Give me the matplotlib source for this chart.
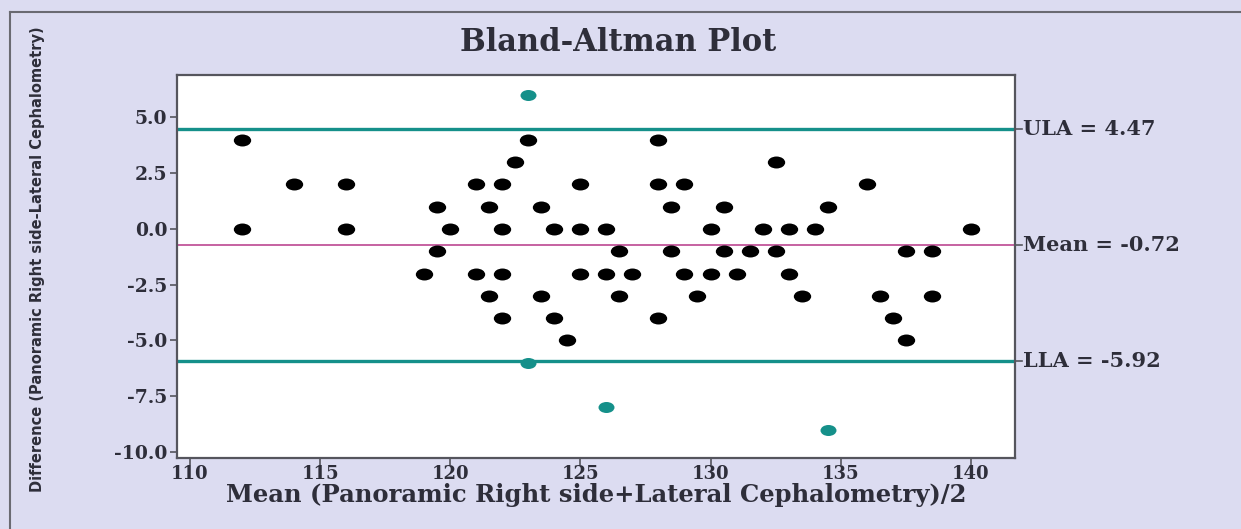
import matplotlib.pyplot as plt
from matplotlib.path import Path
from matplotlib.transforms import Affine2D
from matplotlib.lines import Line2D

# agreement points (mean, difference)
mean_vals = [112, 123, 128,
             122.5, 132.5,
             114, 116, 121, 122, 125, 128, 129, 136,
             119.5, 121.5, 123.5, 128.5, 130.5, 134.5,
             112, 116, 120, 122, 124, 125, 126, 130, 132, 133, 134, 140,
             119.5, 126.5, 128.5, 130.5, 131.5, 132.5, 137.5, 138.5,
             119, 121, 122, 125, 126, 127, 129, 130, 131, 133,
             121.5, 123.5, 126.5, 129.5, 133.5, 136.5, 138.5,
             122, 124, 128, 137,
             124.5, 137.5]
diff_vals = [4, 4, 4,
             3, 3,
             2, 2, 2, 2, 2, 2, 2, 2,
             1, 1, 1, 1, 1, 1,
             0, 0, 0, 0, 0, 0, 0, 0, 0, 0, 0, 0,
             -1, -1, -1, -1, -1, -1, -1, -1,
             -2, -2, -2, -2, -2, -2, -2, -2, -2, -2,
             -3, -3, -3, -3, -3, -3, -3,
             -4, -4, -4, -4,
             -5, -5]

# points outside / on the limits
out_mean = [123, 123, 126, 134.5]
out_diff = [6, -6, -8, -9]

ula = 4.47
mean_diff = -0.72
lla = -5.92
ref_labels = ["ULA = 4.47", "Mean = -0.72", "LLA = -5.92"]

x_ticks = [110, 115, 120, 125, 130, 135, 140]
y_ticks = [5.0, 2.5, 0.0, -2.5, -5.0, -7.5, -10.0]

bg = "#dcdcf1"
teal = "#15908a"
text_col = "#2e2e3a"
serif = ["DejaVu Serif"]

ellipse = Path.unit_circle().transformed(Affine2D().scale(1.45, 1.0))

fig = plt.figure(figsize=(12.41, 5.29), dpi=100, facecolor=bg)
ax = fig.add_axes([0.1426, 0.1342, 0.6753, 0.7238])
ax.set_facecolor("white")

ax.axhline(ula, color=teal, lw=2.4, zorder=2)
ax.axhline(lla, color=teal, lw=2.4, zorder=2)
ax.axhline(mean_diff, color="#c2559a", lw=1.3, zorder=2)

ax.plot(mean_vals, diff_vals, ls="none", marker=ellipse, ms=12.5, mew=0,
        color="black", zorder=3)
ax.plot(out_mean, out_diff, ls="none", marker=ellipse, ms=11.5, mew=0,
        color=teal, zorder=3)

ax.set_xlim(109.5, 141.7)
ax.set_ylim(-10.27, 6.9)
ax.set_xticks(x_ticks)
ax.set_yticks(y_ticks)
ax.set_yticklabels([f"{v:.1f}" for v in y_ticks])

for s in ax.spines.values():
    s.set_color("#55555d")
    s.set_linewidth(1.6)
ax.tick_params(direction="out", length=5, width=1.2, color="#55555d",
               labelcolor=text_col, labelsize=13.5, pad=2)
ax.tick_params(axis="x", labelsize=13, pad=0)
for lab in ax.get_xticklabels() + ax.get_yticklabels():
    lab.set_family(serif)
    lab.set_fontweight("bold")

# right-side reference labels with small ticks
tr = ax.get_yaxis_transform()
for val, lab in zip([ula, mean_diff, lla], ref_labels):
    ax.plot([1.0, 1.008], [val, val], transform=tr, color="#55555d",
            lw=1.2, clip_on=False)
    ax.text(1.009, val, lab, transform=tr, ha="left", va="center",
            fontsize=15, fontweight="bold", family=serif, color=text_col)

ax.text(0.527, 1.085, "Bland-Altman Plot", transform=ax.transAxes,
        ha="center", va="center", fontsize=22, family=serif,
        fontweight="bold", color=text_col)
ax.set_xlabel("Mean (Panoramic Right side+Lateral Cephalometry)/2",
              fontsize=17.5, family=serif, fontweight="bold", color=text_col,
              labelpad=0)
ax.set_ylabel("Difference (Panoramic Right side-Lateral Cephalometry)",
              fontsize=10.5, family="DejaVu Sans", fontweight="bold",
              color=text_col)
ax.yaxis.set_label_coords(-0.157, 0.52)

# outer frame of the panel
fig.add_artist(Line2D([10 / 1241, 1.0], [1 - 12 / 529] * 2,
                      transform=fig.transFigure, color="#6a6a72", lw=1.5))
fig.add_artist(Line2D([10 / 1241] * 2, [0.0, 1 - 12 / 529],
                      transform=fig.transFigure, color="#6a6a72", lw=1.5))

fig.savefig("out.png", dpi=100, facecolor=bg)
